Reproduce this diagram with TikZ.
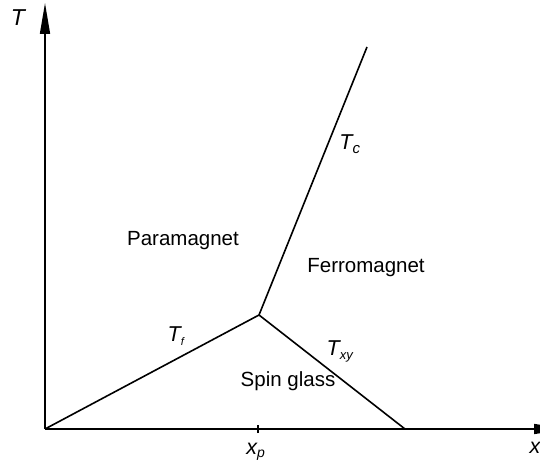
\documentclass[tikz,border=0pt]{standalone}
\usepackage{fontspec}
\setmainfont{Liberation Sans}
\usetikzlibrary{arrows.meta}

\newcommand{\subsz}[2]{\textsubscript{\fontsize{#1}{#1}\selectfont #2}}

\begin{document}
\begin{tikzpicture}[x=1pt, y=1pt, every node/.style={font=\fontsize{20.5}{24}\selectfont, inner sep=0pt}, >={Triangle[length=31pt, width=10pt]}, line/.style={line width=1.6pt}, lab/.style={font=\fontsize{21.5}{24}\selectfont\itshape}]
	\useasboundingbox (0,0) rectangle (540,468);
	\coordinate (O) at (45,39);
	\coordinate (Ytop) at (45,465);
	\coordinate (Xend) at (565,39);
	\coordinate (P) at (259,153);
	\coordinate (C) at (367,421);
	\coordinate (E) at (405,39);
	\coordinate (Xp) at (258,39);
	\draw[->, line] (O) -- (Ytop);
	\draw[->, line] (O) -- (Xend);
	\draw[line] (O) -- (P);
	\draw[line] (P) -- (C);
	\draw[line] (P) -- (E);
	\draw[line] ([yshift=-4pt]Xp) -- ([yshift=4pt]Xp);
	\node[lab, font=\fontsize{23}{24}\selectfont\itshape] (T) at (18,450) {T};
	\node[lab] (x) at (535,20) {x};
	\node[lab, anchor=base] (xp) at (256,14) {x\subsz{14}{p}};
	\node[lab, anchor=base] (Tc) at (350,318) {T\subsz{15}{c}};
	\node[lab, anchor=base] (Tf) at (176,126) {T\subsz{11}{f}};
	\node[lab, anchor=base] (Txy) at (340,112) {T\subsz{13}{xy}};
	\node (para) at (183,227) {Paramagnet};
	\node (ferro) at (366,200) {Ferromagnet};
	\node (spin) at (288,87) {Spin glass};
\end{tikzpicture}
\end{document}
